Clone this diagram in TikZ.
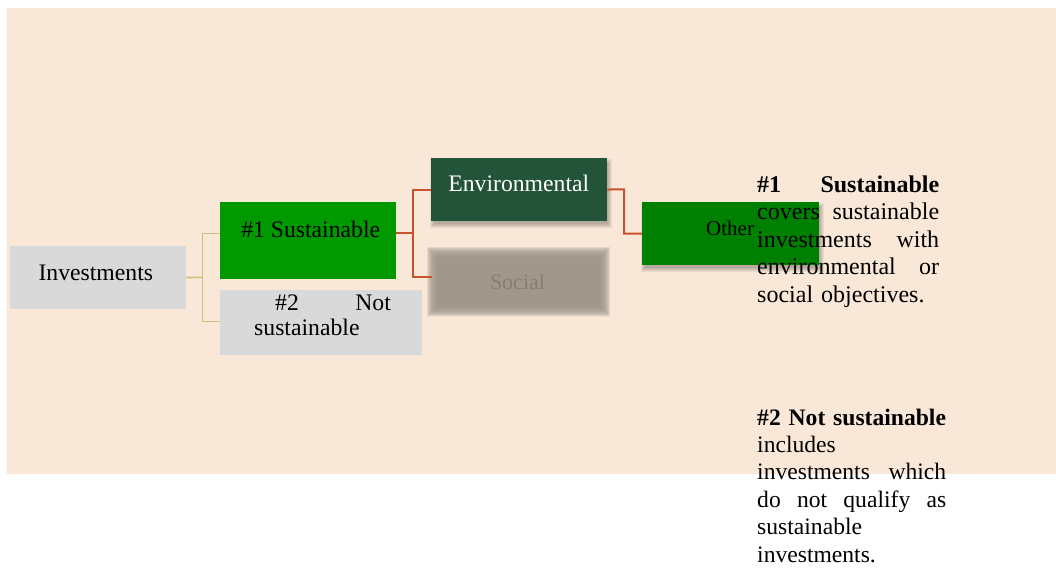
\documentclass[tikz,border=0pt]{standalone}
\usepackage{fontspec}
\setmainfont{Liberation Serif}
\usetikzlibrary{calc}
\definecolor{bgpeach}{RGB}{249,232,216}
\definecolor{boxgray}{RGB}{217,217,217}
\definecolor{susgreen}{RGB}{0,153,0}
\definecolor{envgreen}{RGB}{35,84,57}
\definecolor{othgreen}{RGB}{0,128,0}
\definecolor{socfill}{RGB}{161,152,141}
\definecolor{soctext}{RGB}{134,126,115}
\definecolor{orangeline}{RGB}{200,82,45}
\definecolor{tanline}{RGB}{206,191,122}
\tikzset{
  box/.style={rectangle, inner sep=0pt, anchor=north west, draw=none},
  txt/.style={inner sep=0pt, anchor=base, font=\fontsize{23.7}{27.5}\selectfont},
  para/.style={inner sep=0pt, anchor=base west, align=left, font=\fontsize{24}{27.5}\selectfont},
  tanconn/.style={draw=tanline, line width=1.6pt},
  orconn/.style={draw=orangeline, line width=2pt},
  shadowlayer/.style={fill=black, opacity=0.06}
}
\newcommand\boxshadow[1]{%
  \foreach \d in {-1,0,1,2,3}{%
    \fill[shadowlayer] ($(#1.north west)+(2-\d,4-\d)$) rectangle ($(#1.south east)+(2+\d,4+\d)$);
  }}
\begin{document}
\begin{tikzpicture}[x=1pt,y=-1pt]
\useasboundingbox (0,0) rectangle (1056,569);
\fill[bgpeach] (7,8) rectangle (1056,474);

% placement of shadowed boxes
\path node[box, minimum width=176pt, minimum height=62.7pt] (env) at (431,158) {}
      node[box, minimum width=176.3pt, minimum height=63.3pt] (oth) at (642,201.7) {};
\boxshadow{env}
\boxshadow{oth}

% boxes
\node[box, fill=boxgray, minimum width=176pt, minimum height=62.7pt] (inv) at (10,246) {};
\node[box, fill=susgreen, minimum width=176pt, minimum height=76.7pt] (sus) at (220,202) {};
\node[box, fill=boxgray, minimum width=202pt, minimum height=64.7pt] (nsus) at (220,290) {};
\fill[envgreen] (env.north west) rectangle (env.south east);
\fill[othgreen] (oth.north west) rectangle (oth.south east);

% blurred social box
\node[box, fill=socfill, minimum width=161.3pt, minimum height=48pt] (soc) at (437.7,257.7) {};
\foreach \d in {-6,-5.5,...,5}{
  \fill[socfill, opacity=0.12] (431.7-\d,251.7-\d) rectangle (605+\d,311.7+\d);
}

% texts in boxes
\node[txt] (invt) at (95.8,280) {Investments};
\node[txt] (sust) at (310.7,237.3) {\#1 Sustainable};
\node[txt, anchor=base west, text width=115.7pt, align=left] (nsust1) at (275,310.7) {\#2\hfill Not};
\node[txt, anchor=base west] (nsust2) at (254,335) {sustainable};
\node[txt, text=white] (envt) at (518.8,191.7) {Environmental};
\node[txt, text=soctext, font=\fontsize{22}{26}\selectfont] (soct) at (517.5,289) {Social};
\node[txt, anchor=base west, font=\fontsize{21}{25}\selectfont] (otht) at (706,235) {Other};

% connector coordinates
\coordinate (susin) at (220,233.3);
\coordinate (nsusin) at (220,321.3);
\coordinate (tfork) at (202.3,277.3);
\coordinate (susout) at (396,233.3);
\coordinate (ofork) at (413.3,233.3);
\coordinate (socin) at (431.7,277);
\coordinate (efork) at (624,189.3);

% connectors
\draw[tanconn] (inv.east) -- (tfork);
\draw[tanconn] (susin) -| (tfork) |- (nsusin);
\draw[orconn] (susout) -- (ofork);
\draw[orconn] (env.west) -| (ofork) |- (socin);
\draw[orconn] (env.east) -- (efork) |- (oth.west);

% right-hand paragraphs
\node[para, text width=182pt] (p1) at (757,192.3) {\textbf{\#1}\hfill\textbf{Sustainable}\\covers\hfill sustainable\\investments\hfill with\\environmental\hfill or\\social objectives.};
\node[para, text width=189pt, font=\fontsize{23.6}{27.4}\selectfont] (p2) at (757,425) {\mbox{\textbf{\#2 Not sustainable}}\\includes\\investments\hfill which\\do\hfill not\hfill qualify\hfill as\\sustainable\\investments.};
\end{tikzpicture}
\end{document}
